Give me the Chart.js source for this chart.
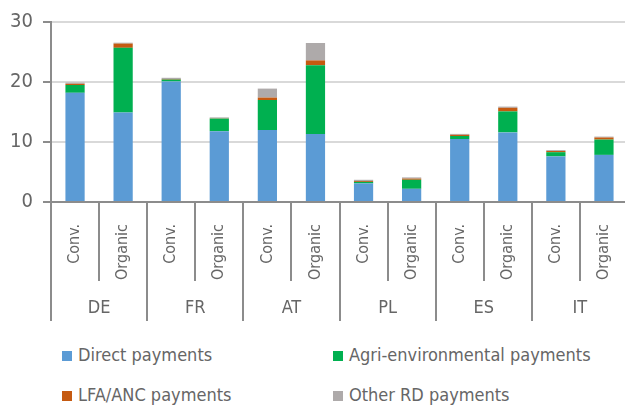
<!DOCTYPE html>
<html>
<head>
<meta charset="utf-8">
<script src="https://cdn.jsdelivr.net/npm/chart.js@4/dist/chart.umd.min.js"></script>
<style>
  body { margin: 0; background: #fff; }
  #wrap { position: relative; width: 625px; height: 405px; overflow: hidden; }
  #legend { position: absolute; left: 0; top: 340px; width: 625px; font-family: "DejaVu Sans Condensed", "Liberation Sans Narrow", sans-serif; font-size: 18px; color: #666; }
  .item { position: absolute; white-space: nowrap; line-height: 20px; }
  .box { display: inline-block; width: 10px; height: 10px; margin-right: 6px; vertical-align: 0px; }
</style>
</head>
<body>
<div id="wrap">
  <canvas id="myChart" width="628" height="340"></canvas>
  <div id="legend"></div>
</div>
<script>
// values, stacked per bar
const countries = ["DE", "FR", "AT", "PL", "ES", "IT"];
const farmTypes = ["Conv.", "Organic"];
const yTicks = [0, 10, 20, 30];

const directPayments = [18.2, 14.9, 20.1, 11.8, 12.0, 11.35, 3.1, 2.2, 10.5, 11.6, 7.6, 7.85];
const agriEnvPayments = [1.3, 10.8, 0.3, 2.1, 5.0, 11.45, 0.25, 1.5, 0.5, 3.5, 0.7, 2.55];
const lfaPayments = [0.2, 0.7, 0.1, 0.05, 0.4, 0.8, 0.15, 0.2, 0.2, 0.6, 0.2, 0.35];
const otherRdPayments = [0.2, 0.15, 0.2, 0.15, 1.5, 2.9, 0.2, 0.2, 0.15, 0.2, 0.15, 0.15];

const fontFamily = '"DejaVu Sans Condensed", "Liberation Sans Narrow", sans-serif';
const textColor = "#666666";
const axisColor = "#8c8c8c";

const labels = [];
for (const c of countries) {
    for (const t of farmTypes) labels.push(t);
}

const data = {
    labels: labels,
    datasets: [
        { label: "Direct payments", data: directPayments, backgroundColor: "#5b9bd5" },
        { label: "Agri-environmental payments", data: agriEnvPayments, backgroundColor: "#00b050" },
        { label: "LFA/ANC payments", data: lfaPayments, backgroundColor: "#c55a11" },
        { label: "Other RD payments", data: otherRdPayments, backgroundColor: "#aeaaaa" },
    ],
};

// separators under the axis + country names
const groupAxis = {
    id: "groupAxis",
    afterDraw(chart) {
        const ctx = chart.ctx;
        const x = chart.scales.x;
        const bottom = chart.chartArea.bottom;
        const w = x.getPixelForValue(1) - x.getPixelForValue(0);
        ctx.save();
        ctx.strokeStyle = axisColor;
        ctx.lineWidth = 2;
        for (let i = 0; i <= labels.length; i++) {
            const px = Math.round(x.getPixelForValue(0) - w / 2 + i * w);
            const end = i % 2 === 0 ? 321 : 281;
            ctx.beginPath();
            ctx.moveTo(px, bottom);
            ctx.lineTo(px, end);
            ctx.stroke();
        }
        ctx.fillStyle = textColor;
        ctx.font = "18px " + fontFamily;
        ctx.textAlign = "center";
        ctx.textBaseline = "middle";
        countries.forEach((c, k) => {
            const cx = (x.getPixelForValue(2 * k) + x.getPixelForValue(2 * k + 1)) / 2;
            ctx.fillText(c, cx, 308);
        });
        ctx.restore();
    },
};

const options = {
    responsive: false,
    animation: false,
    layout: { padding: { top: 17, right: 0, left: 0, bottom: 0 } },
    plugins: { legend: { display: false }, tooltip: { enabled: false } },
    scales: {
        x: {
            stacked: true,
            grid: { display: false },
            border: { color: axisColor, width: 2 },
            ticks: {
                minRotation: 90,
                maxRotation: 90,
                padding: 14,
                color: textColor,
                font: { family: fontFamily, size: 16 },
            },
            afterFit: (scale) => {
                scale.height = 138;
                scale.paddingRight = 0;
                scale.paddingLeft = 0;
            },
        },
        y: {
            stacked: true,
            min: 0,
            max: 30,
            afterBuildTicks: (scale) => { scale.ticks = yTicks.map((v) => ({ value: v })); },
            grid: { color: "#d9d9d9", lineWidth: 2, tickColor: axisColor, tickLength: 8, tickWidth: 2 },
            border: { color: axisColor, width: 2 },
            ticks: {
                padding: 10,
                color: textColor,
                font: { family: fontFamily, size: 20 },
            },
            afterFit: (scale) => { scale.width = 51; },
        },
    },
    datasets: { bar: { categoryPercentage: 1, barPercentage: 0.4 } },
};

var canvas = document.getElementById("myChart");
var myChart = new Chart(canvas.getContext("2d"), {
    type: "bar",
    data: data,
    options: options,
    plugins: [groupAxis],
});

// legend: two columns, two rows
const legendPos = [[62, 5], [333, 5], [62, 45], [333, 45]];
const legend = document.getElementById("legend");
data.datasets.forEach((ds, i) => {
    let item = document.createElement("div");
    item.className = "item";
    item.style.left = legendPos[i][0] + "px";
    item.style.top = legendPos[i][1] + "px";
    item.innerHTML = `<span class="box" style="background:${ds.backgroundColor}"></span>${ds.label}`;
    legend.appendChild(item);
});
</script>
</body>
</html>
